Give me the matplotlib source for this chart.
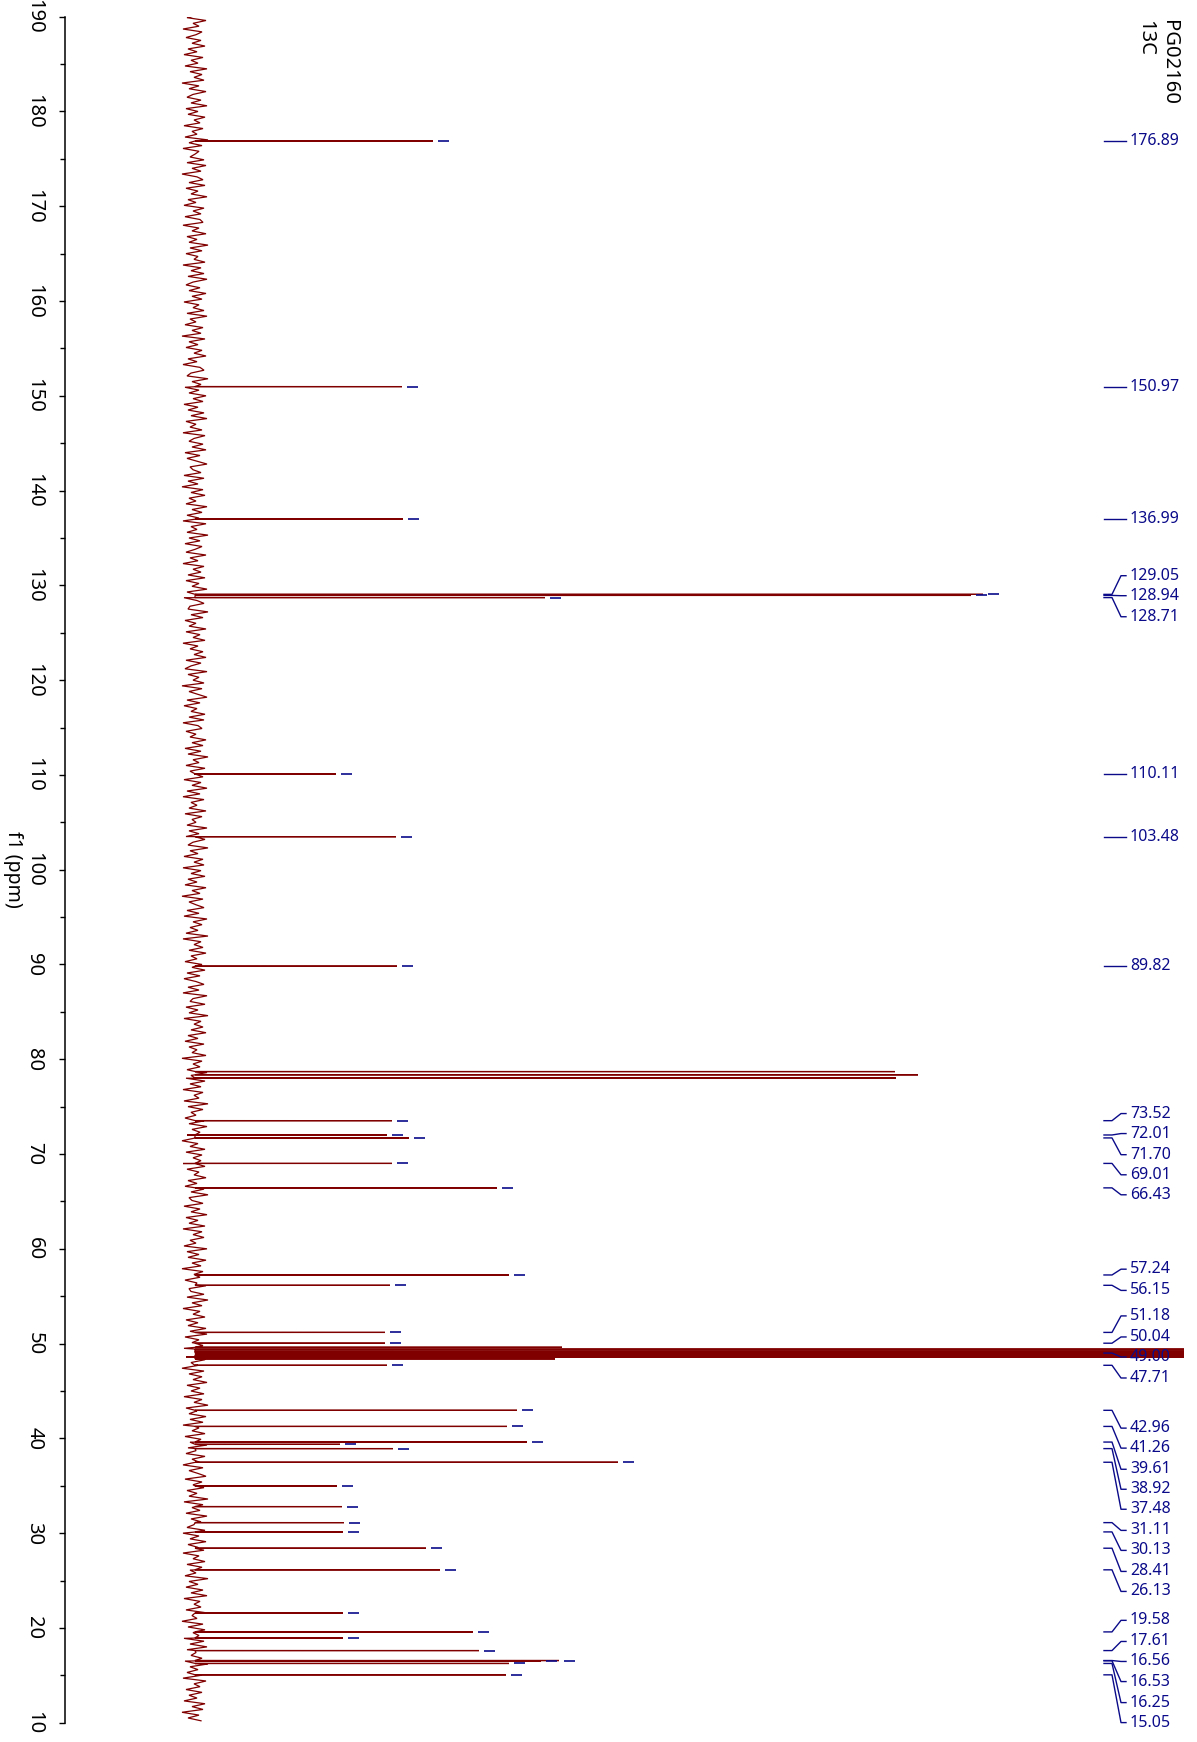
import matplotlib
matplotlib.use("Agg")
import matplotlib.pyplot as plt
import numpy as np
from matplotlib.transforms import blended_transform_factory

plt.rcParams['font.family'] = ['Noto Sans', 'DejaVu Sans']

# ---------------- data ----------------
title_lines = ["PG02160", "13C"]
axis_label = "f1 (ppm)"
ppm_ticks = [10, 20, 30, 40, 50, 60, 70, 80, 90, 100, 110, 120, 130, 140, 150, 160, 170, 180, 190]
ppm_minor = [15, 25, 35, 45, 55, 65, 75, 85, 95, 105, 115, 125, 135, 145, 155, 165, 175, 185]

# all resolved lines: position (ppm), height (arbitrary intensity units), picked by peak picking?
peak_ppm = [176.89, 150.97, 136.99, 129.05, 128.94, 128.71, 110.11, 103.48, 89.82,
            78.70, 78.36, 78.02,
            73.52, 72.01, 71.70, 69.01, 66.43, 57.24, 56.15, 51.18, 50.04,
            49.61, 49.41, 49.20, 49.00, 48.80, 48.59, 48.39,
            47.71, 42.96, 41.26, 39.61, 39.37, 38.92, 37.48, 34.98, 32.80,
            31.11, 30.13, 28.41, 26.13, 21.58, 19.58, 18.94, 17.61,
            16.56, 16.53, 16.25, 15.05]
peak_int = [238, 207, 208, 788, 776, 350, 141, 201, 202,
            700, 723, 701,
            197, 192, 214, 197, 302, 314, 195, 190, 190,
            367, 1150, 2300, 2700, 2300, 1150, 360,
            192, 322, 312, 332, 145, 198, 423, 142, 147,
            149, 148, 231, 245, 148, 278, 148, 284,
            364, 346, 314, 311]
peak_picked = [1, 1, 1, 1, 1, 1, 1, 1, 1,
               0, 0, 0,
               1, 1, 1, 1, 1, 1, 1, 1, 1,
               0, 0, 0, 0, 0, 0, 0,
               1, 1, 1, 1, 1, 1, 1, 1, 1,
               1, 1, 1, 1, 1, 1, 1, 1,
               1, 1, 1, 1]

# labelled shifts (right-hand annotation column)
label_ppm = [176.89, 150.97, 136.99, 129.05, 128.94, 128.71, 110.11, 103.48, 89.82,
             73.52, 72.01, 71.70, 69.01, 66.43, 57.24, 56.15, 51.18, 50.04, 49.00, 47.71,
             42.96, 41.26, 39.61, 38.92, 37.48, 31.11, 30.13, 28.41, 26.13,
             19.58, 17.61, 16.56, 16.53, 16.25, 15.05]

# baseline noise of the trace (intensity units), one value per 0.3 ppm starting at 190.2 ppm
noise_start = 190.2
noise_step = 0.3
baseline_noise = [
    5, -8, 11, -2, 4, -12, 7, 1, -9, 6, -3, 10, -7, 2, -11, 8, -4, 3, -10, 12,
    -5, 7, -1, 9, -13, 4, -6, 11, -2, -8, 6, -4, 12, -9, 3, -7, 10, -1, 5, -11,
    8, -3, 2, -10, 13, -6, 7, -12, 4, 0, -5, 9, -8, 11, -3, 6, -13, 2, 8, -6,
    10, -9, 3, -4, 12, -7, 1, -11, 9, -2, 6, -10, 5, 8, -12, 4, -3, 11, -8, 2,
    -6, 13, -5, 7, -9, 3, -1, 10, -12, 6, -4, 9, -7, 12, -2, -9, 5, -6, 11, -3,
    7, -11, 4, -2, 9, -8, 12, -5, 1, -10, 8, -3, 6, -13, 10, -6, 3, -9, 7, -1,
    11, -7, 2, -12, 5, 9, -4, -8, 13, -3, 6, -10, 4, -6, 11, -2, 8, -11, 3, -7,
    9, -4, 12, -9, 1, -5, 7, -12, 10, -1, -6, 8, -3, 11, -10, 5, -8, 2, 12, -5,
    -2, 6, -11, 9, -7, 3, -13, 8, -4, 10, -6, 1, -9, 12, -3, 7, -8, 4, -12, 11,
    -4, 2, -8, 13, -6, 5, -10, 7, 0, -9, 11, -5, 3, -12, 9, -2, 6, -7, 10, -9,
    4, -3, 12, -8, 6, -11, 2, 9, -5, -7, 13, -4, 8, -10, 1, -6, 11, -9, 5, -2,
    10, -12, 3, -5, 8, -1, 11, -9, 6, -4, -10, 12, -7, 4, -2, 9, -13, 7, -6, 3,
    12, -8, 5, -11, 2, -4, 10, -6, 9, -12, 3, 7, -9, 1, -5, 11, -3, 8, -10, 6,
    -7, 13, -2, 4, -9, 10, -5, -1, 8, -11, 6, -3, 12, -8, 5, -12, 9, -4, 2, -6,
    11, -10, 7, -3, 1, -8, 12, -6, 4, -9, 10, -2, -7, 13, -5, 3, -11, 8, -1, 9,
    -12, 6, -4, 10, -7, 2, -10, 11, -3, 5, -13, 8, -6, 1, 9, -8, 4, -11, 12, -2,
    7, -5, 3, -9, 13, -12, 6, -1, 8, -6, 11, -4, 2, -10, 7, -3, 10, -8, 5, -11,
    1, 9, -7, 4, -12, 12, -2, -5, 10, -9, 3, -6, 13, -11, 6, -1, 8, -4, 11, -7,
    3, -10, 9, -6, 2, -3, 11, -13, 7, -2, 5, -8, 12, -4, -9, 10, -5, 6, -12, 8,
    -1, 4, -11, 13, -7, 8, -4, 1, -10, 9, -6, 12, -3, 5, -8, 11, -13, 3, -5, 10,
    -9, 7, -2, 6, -12, 10, -8, 4, -1, 11, -7, 2, -10, 9, -4, 13, -6, -3, 8, -11,
    5, -4, 12, -9, 3, -6, 10, -12, 7, -2, 9, -5, 1, -11, 12, -8, 4, -7, 11, -3,
    6, -13, 8, -1, 5, -10, 2, 11, -6, -4, 9, -8, 13, -3, 7, -12, 5, -2, 10, -9,
    3, -7, 11, -5, 12, -10, 4, -3, 8, -11, 1, 6, -9, 10, -4, 3, -13, 9, -6, 7,
    -2, 12, -8, 5, -4, 9, -11, 7, -1, 13, -9, 2, -6, 11, -5, 8, -12, 4, -3, 10,
    -10, 6, -5, 12, -7, 1, -9, 10, -3, 4, -12, 8, -6, 3, 11, -10, 7, -2, 9, -8,
    2, -6, 13, -11, 8, -3, 5, -9, 12, -4, 6, -1, -8, 10, -12, 4, -5, 11, -7, 3,
    9, -12, 4, -2, 10, -8, 7, -5, 1, -10, 13, -6, 3, -9, 8, -4, 12, -11, 5, -1,
    6, -9, 11, -3, 2, -13, 8, -7, 10, -2, 4, -11, 9, -5, 12, -8, 1, -4, 7, -10,
    13, -5, 3, -8, 6, -12, 11, -1, 5, -9, 7, -6, 2, -11, 10, -3, 8, -13, 4, -7,
    6,
]

# ---------------- layout (figure pixels) ----------------
W, H = 1197, 1742
AX_L, AX_R, AX_T, AX_B = 65, 1184, 16.7, 1722.7
BASE_PX = 195                      # x pixel of the spectrum baseline
# label column: slot positions (ppm units) where each label text sits
label_slot = [176.89, 150.97, 136.99, 131.02, 128.91, 126.69, 110.11, 103.48, 89.82,
              74.27, 72.16, 69.93, 67.81, 65.70, 57.85, 55.61, 52.92, 50.70, 48.59, 46.37,
              41.08, 38.97, 36.74, 34.63, 32.52, 30.29, 28.18, 25.96, 23.85,
              20.80, 18.57, 16.46, 14.34, 12.12, 10.01]

SPEC_COLOR = '#800000'
LABEL_COLOR = '#0b0b8a'

fig = plt.figure(figsize=(W / 100, H / 100), dpi=100)
ax = fig.add_axes([AX_L / W, 1 - AX_B / H, (AX_R - AX_L) / W, (AX_B - AX_T) / H])
ax.set_xlim(AX_L - BASE_PX, AX_R - BASE_PX)
ax.set_ylim(10, 190)

# ---- build spectrum trace ----
n = len(baseline_noise)
noise_ppm = noise_start - noise_step * np.arange(n)
hw = 0.01
xs = list(baseline_noise)
ys = list(noise_ppm)
for p, h in zip(peak_ppm, peak_int):
    xs += [0, h, 0]
    ys += [p + hw, p, p - hw]
order = np.argsort(-np.array(ys), kind='stable')
xs = np.array(xs, dtype=float)[order]
ys = np.array(ys, dtype=float)[order]
ax.plot(xs, ys, color=SPEC_COLOR, lw=0.9, solid_joinstyle='miter', zorder=2)

# ---- peak-pick dashes ----
for p, h, pk in zip(peak_ppm, peak_int, peak_picked):
    if pk:
        ax.plot([h + 4.5, h + 16], [p, p], color=LABEL_COLOR, lw=1.2, zorder=3,
                solid_capstyle='butt')

# ---- label column ----
def axx(px):
    return (px - AX_L) / (AX_R - AX_L)

blend = blended_transform_factory(ax.transAxes, ax.transData)
for v, s in zip(label_ppm, label_slot):
    ax.plot([axx(1104), axx(1112), axx(1121), axx(1126)], [v, v, s, s],
            transform=blend, color=LABEL_COLOR, lw=1.0, clip_on=False, zorder=4)
    ax.text(axx(1130), s, f"{v:.2f}", transform=blend, color=LABEL_COLOR,
            fontsize=11.5, ha='left', va='center', zorder=5, clip_on=False)

# ---- axis styling ----
for sp in ['top', 'right', 'bottom']:
    ax.spines[sp].set_visible(False)
ax.spines['left'].set_linewidth(1.1)
ax.set_xticks([])
ax.set_yticks(ppm_ticks)
ax.set_yticklabels([str(t) for t in ppm_ticks])
ax.set_yticks(ppm_minor, minor=True)
ax.tick_params(axis='y', which='major', length=4.3, width=1.0, direction='out',
               labelsize=14.5, pad=10.5, labelrotation=-90)
ax.tick_params(axis='y', which='minor', length=3.6, width=1.0, direction='out')
for lbl in ax.get_yticklabels():
    lbl.set_va('center')
    lbl.set_ha('right')

ax.set_ylabel(axis_label, fontsize=14)
ax.yaxis.label.set(rotation=-90, va='center', ha='center', rotation_mode='anchor')
ax.yaxis.set_label_coords(axx(13), 0.5)

fig.text(1179 / W, 1 - 20 / H, "\n".join(title_lines), rotation=-90, ha='right', va='top',
         multialignment='left', fontsize=14.5, linespacing=1.25)

fig.savefig("out.png", dpi=100)
